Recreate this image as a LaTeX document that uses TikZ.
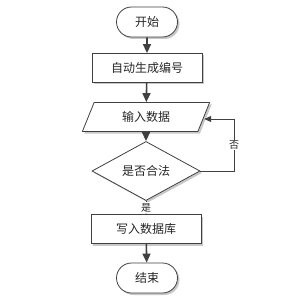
\documentclass[tikz,border=0pt]{standalone}
\usepackage{fontspec}
\setmainfont{Noto Sans CJK SC}
\usetikzlibrary{shapes.geometric,shapes.misc,shadows,arrows.meta}
\definecolor{linegray}{HTML}{404040}
\definecolor{shadowgray}{HTML}{C8C8C8}
\begin{document}
\begin{tikzpicture}[x=1pt,y=-1pt,
  every node/.style={font=\fontsize{12}{14}\selectfont, text=black!85},
  base/.style={draw=linegray, line width=0.8pt, fill=white,
    drop shadow={shadow xshift=2pt, shadow yshift=-2pt, fill=shadowgray, opacity=1}},
  terminal/.style={base, rounded rectangle, minimum width=61pt, minimum height=30pt, inner sep=0pt},
  procbox/.style={base, rectangle, minimum width=110pt, minimum height=29pt, inner sep=0pt},
  iobox/.style={base, trapezium, trapezium left angle=64, trapezium right angle=116,
    trapezium stretches=true, minimum width=128pt, minimum height=29pt, inner sep=0pt},
  decision/.style={base, diamond, minimum width=108pt, minimum height=38pt, inner sep=0pt},
  flow/.style={draw=linegray, line width=1.6pt, -{Triangle[length=9pt,width=8pt]}},
  back/.style={draw=linegray, line width=1pt, -{Triangle[length=7pt,width=6pt]}},
  lbl/.style={fill=white, inner sep=1pt, font=\fontsize{10}{12}\selectfont}]
\useasboundingbox (0,0) rectangle (299,302);
\node[terminal] (start) at (147,22) {开始};
\node[procbox] (number) at (147,68) {自动生成编号};
\node[iobox] (input) at (146,117) {输入数据};
\node[decision] (check) at (146,171) {是否合法};
\node[procbox] (write) at (146,229) {写入数据库};
\node[terminal] (stop) at (147,278) {结束};
\coordinate (loop) at (234,119);

\draw[flow] (start) -- (number);
\draw[flow] (number) -- (input);
\draw[flow] (input) -- (check);
\draw[back] (check) -- node[lbl] {是} (write);
\draw[back] (check.east) -| node[lbl, pos=0.75] {否} (loop) -- (input.east |- loop);
\draw[flow] (write) -- (stop);
\end{tikzpicture}
\end{document}
